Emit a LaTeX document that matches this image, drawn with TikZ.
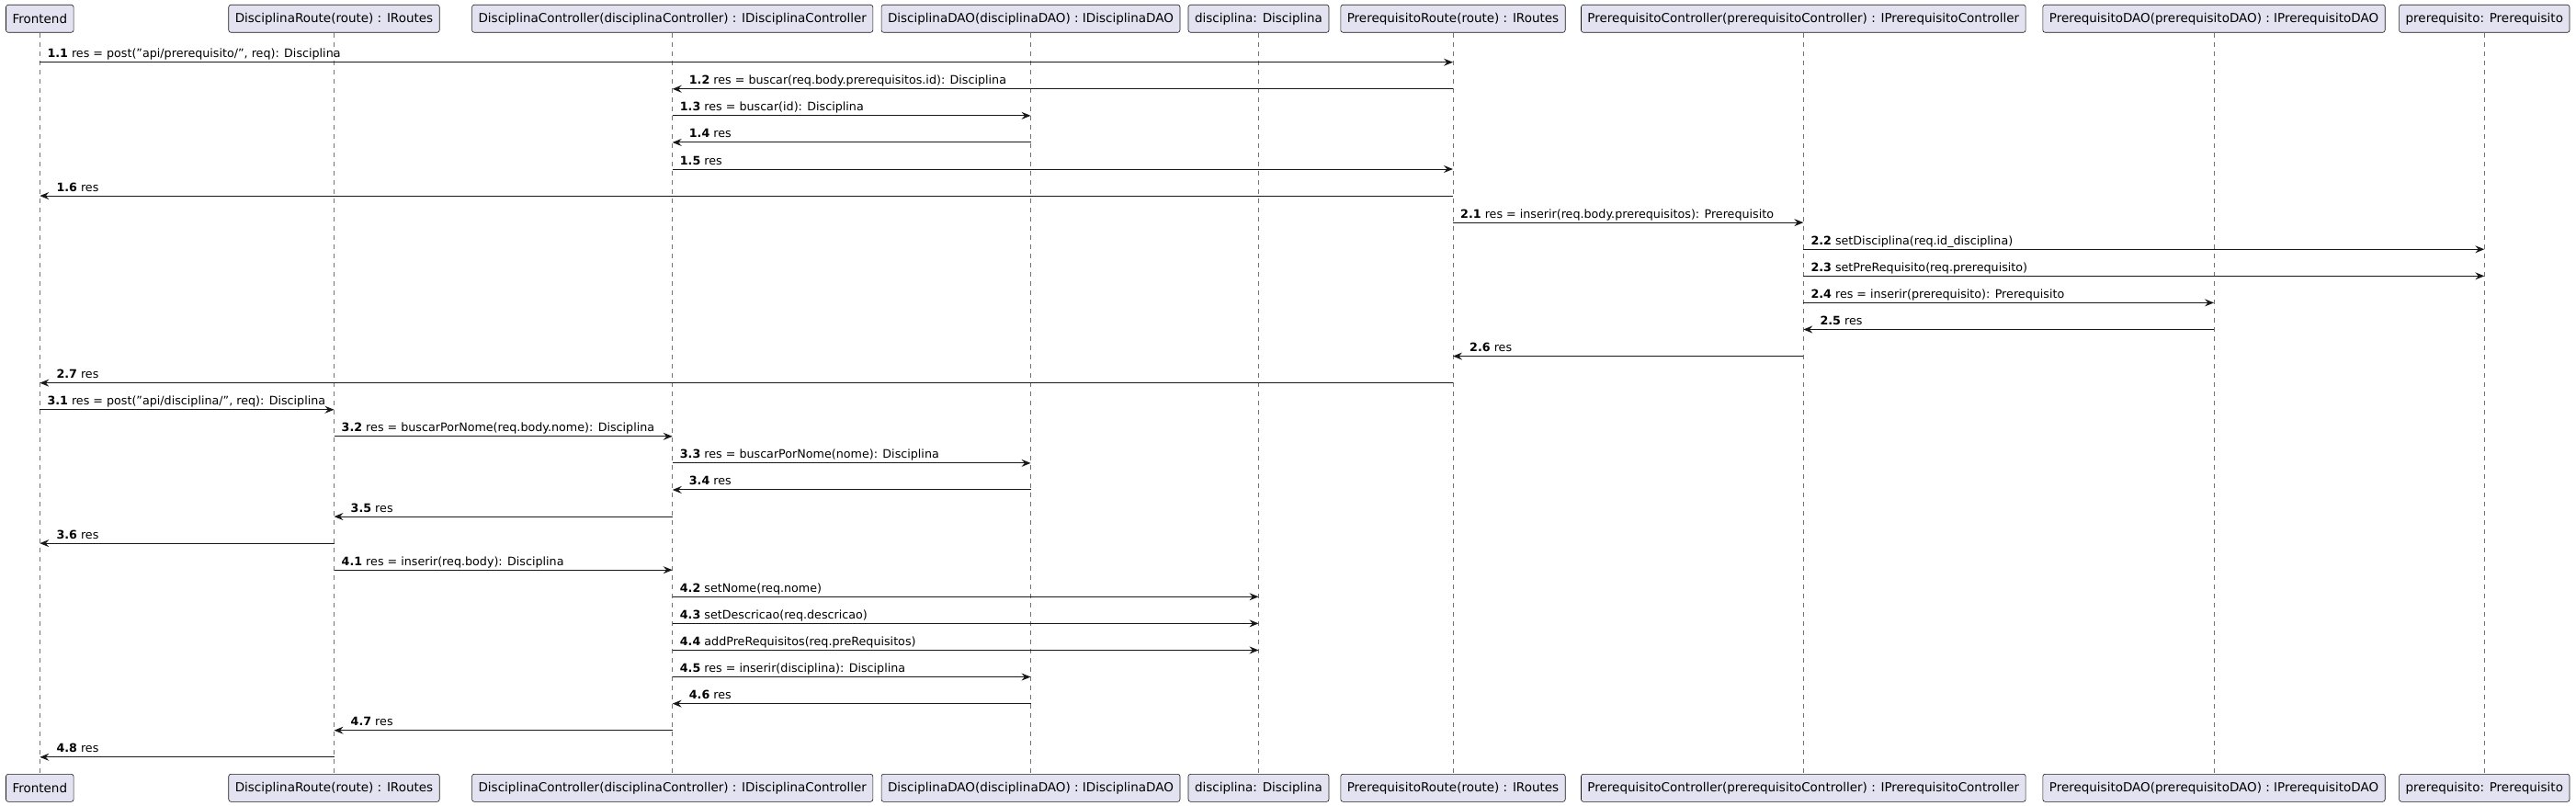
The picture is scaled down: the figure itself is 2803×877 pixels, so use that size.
\documentclass[tikz,border=0pt]{standalone}
\usepackage{fontspec}
\setmainfont{DejaVu Sans}
\usetikzlibrary{arrows.meta}
\usetikzlibrary{positioning}

\definecolor{partfill}{HTML}{E2E2F0}
\definecolor{ink}{HTML}{181818}

\tikzset{
  part/.style={draw=ink, line width=0.6pt, fill=partfill, rounded corners=2.5pt,
    minimum height=30pt, inner xsep=7pt, inner ysep=0pt, font=\fontsize{13.5}{16}\selectfont},
  life/.style={draw=ink!60, line width=0.6pt, dash pattern=on 5pt off 5pt},
  msg/.style={draw=ink, line width=1pt},
  toR/.style={-{Stealth[length=10pt,width=8pt,inset=3.5pt]}},
  toL/.style={{Stealth[length=10pt,width=8pt,inset=3.5pt]}-},
  msglbl/.style={anchor=base west, inner sep=0pt, yshift=5pt, font=\fontsize{12.7}{15}\selectfont},
  lblR/.style={xshift=8pt},
  lblL/.style={xshift=18pt},
}

\begin{document}
\begin{tikzpicture}[x=1pt, y=-1pt]
  \useasboundingbox (0,0) rectangle (2803,877);

  % participants, top row
  \node[part] (fe)  at (43.3,20.3)   {Frontend};
  \node[part] (dr)  at (363.5,20.3)  {DisciplinaRoute(route) : IRoutes};
  \node[part] (dc)  at (731.7,20.3)  {DisciplinaController(disciplinaController) : IDisciplinaController};
  \node[part] (dd)  at (1121.5,20.3) {DisciplinaDAO(disciplinaDAO) : IDisciplinaDAO};
  \node[part] (dis) at (1369.5,20.3) {disciplina: Disciplina};
  \node[part] (pr)  at (1581,20.3)   {PrerequisitoRoute(route) : IRoutes};
  \node[part] (pc)  at (1962.3,20.3) {PrerequisitoController(prerequisitoController) : IPrerequisitoController};
  \node[part] (pd)  at (2409,20.3)   {PrerequisitoDAO(prerequisitoDAO) : IPrerequisitoDAO};
  \node[part] (pre) at (2703.3,20.3) {prerequisito: Prerequisito};

  % participants, bottom row and lifelines
  \foreach \p/\txt in {fe/Frontend, dr/DisciplinaRoute(route) : IRoutes,
      dc/DisciplinaController(disciplinaController) : IDisciplinaController,
      dd/DisciplinaDAO(disciplinaDAO) : IDisciplinaDAO, dis/disciplina: Disciplina,
      pr/PrerequisitoRoute(route) : IRoutes,
      pc/PrerequisitoController(prerequisitoController) : IPrerequisitoController,
      pd/PrerequisitoDAO(prerequisitoDAO) : IPrerequisitoDAO, pre/prerequisito: Prerequisito}{
    \node[part, below=806.4pt of \p] (\p B) {\txt};
    \draw[life] (\p) -- (\p B);
  }

  % messages
  \foreach \src/\dst/\d/\num/\txt [count=\i from 0] in {
      fe/pr/R/1.1/{res = post("api/prerequisito/", req): Disciplina},
      dc/pr/L/1.2/{res = buscar(req.body.prerequisitos.id): Disciplina},
      dc/dd/R/1.3/{res = buscar(id): Disciplina},
      dc/dd/L/1.4/{res},
      dc/pr/R/1.5/{res},
      fe/pr/L/1.6/{res},
      pr/pc/R/2.1/{res = inserir(req.body.prerequisitos): Prerequisito},
      pc/pre/R/2.2/{setDisciplina(req.id\_disciplina)},
      pc/pre/R/2.3/{setPreRequisito(req.prerequisito)},
      pc/pd/R/2.4/{res = inserir(prerequisito): Prerequisito},
      pc/pd/L/2.5/{res},
      pr/pc/L/2.6/{res},
      fe/pr/L/2.7/{res},
      fe/dr/R/3.1/{res = post("api/disciplina/", req): Disciplina},
      dr/dc/R/3.2/{res = buscarPorNome(req.body.nome): Disciplina},
      dc/dd/R/3.3/{res = buscarPorNome(nome): Disciplina},
      dc/dd/L/3.4/{res},
      dr/dc/L/3.5/{res},
      fe/dr/L/3.6/{res},
      dr/dc/R/4.1/{res = inserir(req.body): Disciplina},
      dc/dis/R/4.2/{setNome(req.nome)},
      dc/dis/R/4.3/{setDescricao(req.descricao)},
      dc/dis/R/4.4/{addPreRequisitos(req.preRequisitos)},
      dc/dd/R/4.5/{res = inserir(disciplina): Disciplina},
      dc/dd/L/4.6/{res},
      dr/dc/L/4.7/{res},
      fe/dr/L/4.8/{res}}{
    \pgfmathsetmacro\y{67.7+\i*29.08}
    \draw[msg, to\d] (\src |- 0,\y) -- (\dst |- 0,\y);
    \node[msglbl, lbl\d] (m\i) at (\src |- 0,\y) {\textbf{\num} \txt};
  }
\end{tikzpicture}
\end{document}
